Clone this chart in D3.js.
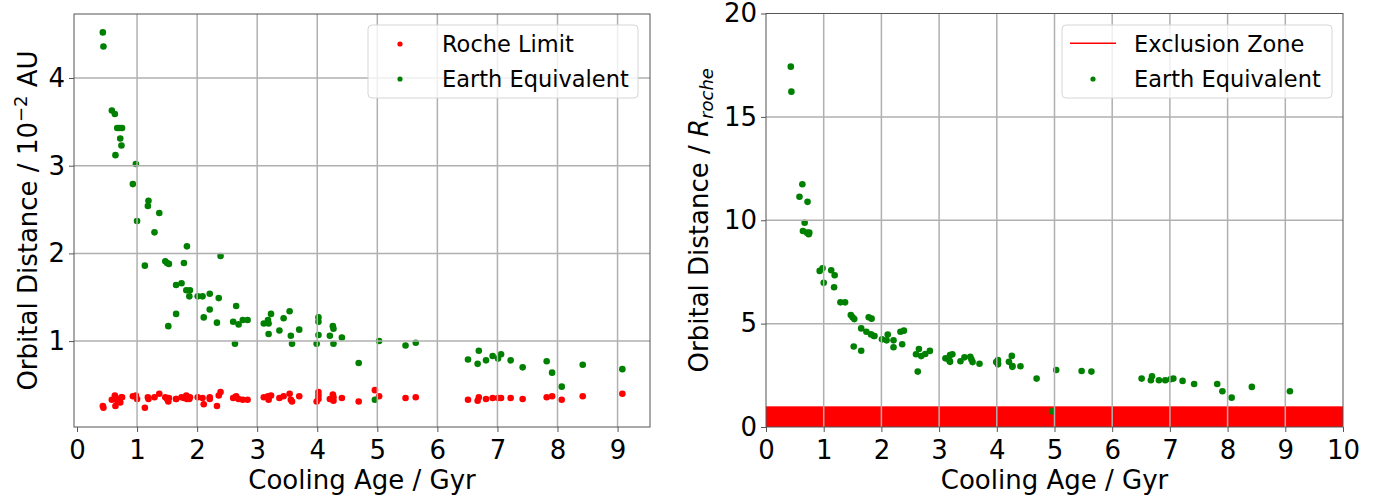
<!DOCTYPE html>
<html>
<head>
<meta charset="utf-8">
<script src="https://cdn.jsdelivr.net/npm/d3@7"></script>
<style>
  body { margin: 0; background: #fff; }
  svg { font-family: "DejaVu Sans", sans-serif; }
</style>
</head>
<body>
<svg id="chart" width="1377" height="497"></svg>
<script>
// cooling ages (Gyr), shared by both panels
const ages = [0.43, 0.44, 0.58, 0.63, 0.64, 0.67, 0.71, 0.72, 0.74, 0.75,
  0.93, 0.98, 1.00, 1.13, 1.18, 1.19, 1.29, 1.37, 1.47, 1.50,
  1.52, 1.53, 1.65, 1.65, 1.74, 1.78, 1.82, 1.83, 1.87, 1.88,
  2.01, 2.09, 2.11, 2.21, 2.21, 2.33, 2.36, 2.39, 2.60, 2.63,
  2.65, 2.69, 2.76, 2.84, 3.11, 3.18, 3.19, 3.19, 3.23, 3.37,
  3.44, 3.54, 3.56, 3.58, 3.70, 3.99, 4.02, 4.02, 4.02, 4.21,
  4.26, 4.27, 4.27, 4.41, 4.69, 4.96, 5.03, 5.47, 5.64, 6.51,
  6.67, 6.69, 6.81, 6.92, 7.01, 7.06, 7.22, 7.42, 7.82, 7.91,
  8.07, 8.42, 9.08];

// left panel: 10^-2 AU
const rocheLimit = [0.26, 0.24, 0.33, 0.38, 0.26, 0.32, 0.34, 0.30, 0.36, 0.36,
  0.37, 0.38, 0.34, 0.24, 0.36, 0.34, 0.36, 0.40, 0.36, 0.34,
  0.31, 0.35, 0.34, 0.34, 0.36, 0.35, 0.38, 0.34, 0.34, 0.36,
  0.36, 0.35, 0.28, 0.36, 0.34, 0.26, 0.38, 0.42, 0.35, 0.36,
  0.37, 0.34, 0.33, 0.33, 0.36, 0.37, 0.33, 0.35, 0.38, 0.35,
  0.37, 0.40, 0.33, 0.31, 0.37, 0.31, 0.42, 0.38, 0.34, 0.34,
  0.39, 0.36, 0.32, 0.35, 0.31, 0.44, 0.37, 0.35, 0.36, 0.33,
  0.32, 0.36, 0.34, 0.35, 0.35, 0.35, 0.35, 0.34, 0.36, 0.37,
  0.33, 0.37, 0.40];

const earthEquivalent = [4.52, 4.36, 3.63, 3.59, 3.12, 3.43, 3.43, 3.31, 3.23, 3.43,
  2.79, 3.02, 2.37, 1.86, 2.54, 2.60, 2.24, 2.46, 1.91, 1.89,
  1.17, 1.88, 1.64, 1.31, 1.66, 1.89, 1.58, 2.08, 1.51, 1.58,
  1.51, 1.51, 1.27, 1.54, 1.36, 1.21, 1.49, 1.97, 1.22, 0.97,
  1.40, 1.19, 1.24, 1.24, 1.20, 1.24, 1.20, 1.08, 1.31, 1.12,
  1.26, 1.34, 1.06, 0.97, 1.13, 0.97, 1.27, 1.22, 1.07, 1.06,
  1.17, 1.14, 0.97, 1.04, 0.75, 0.33, 1.00, 0.95, 0.98, 0.79,
  0.74, 0.89, 0.78, 0.83, 0.80, 0.85, 0.78, 0.70, 0.77, 0.64,
  0.48, 0.73, 0.68];

// right panel: in units of R_roche
const earthOverRoche = [17.43, 16.22, 11.14, 11.74, 9.48, 9.88, 9.40, 10.89, 9.32, 9.40,
  7.55, 7.68, 6.98, 7.58, 6.76, 7.34, 6.03, 6.03, 5.42, 5.31,
  3.89, 5.22, 4.77, 3.69, 4.61, 5.31, 4.48, 5.24, 4.40, 4.40,
  4.24, 4.19, 4.47, 4.19, 3.86, 4.61, 4.00, 4.66, 3.52, 2.68,
  3.77, 3.43, 3.53, 3.68, 3.32, 3.21, 3.48, 3.15, 3.52, 3.18,
  3.37, 3.40, 3.27, 3.14, 3.06, 3.14, 3.03, 3.24, 3.08, 3.15,
  3.44, 2.91, 2.95, 2.94, 2.34, 0.76, 2.76, 2.71, 2.68, 2.34,
  2.26, 2.45, 2.26, 2.26, 2.31, 2.34, 2.23, 2.08, 2.08, 1.73,
  1.42, 1.94, 1.73];

const exclusionZone = { x0: 0, x1: 10, y0: 0, y1: 1 };

const leftXTicks = [0, 1, 2, 3, 4, 5, 6, 7, 8, 9];
const leftYTicks = [1, 2, 3, 4];
const rightXTicks = [0, 1, 2, 3, 4, 5, 6, 7, 8, 9, 10];
const rightYTicks = [0, 5, 10, 15, 20];

const svg = d3.select("#chart");
const gridColor = "#b0b0b0";
const spineColor = "#555";

// Panel geometry
const left = { x0: 74, x1: 650, y0: 14, y1: 427 };
const right = { x0: 766, x1: 1343, y0: 13.5, y1: 427 };

const xL = d3.scaleLinear().domain([-0.05, 9.54]).range([left.x0, left.x1]);
const yL = d3.scaleLinear().domain([0.02, 4.73]).range([left.y1, left.y0]);
const xR = d3.scaleLinear().domain([0, 10]).range([right.x0, right.x1]);
const yR = d3.scaleLinear().domain([0, 20]).range([right.y1, right.y0]);

function drawAxes(g, box, x, y, xTicks, yTicks) {
    // ticks + labels
    const ax = g.append("g")
        .attr("transform", `translate(0,${box.y1})`)
        .call(d3.axisBottom(x).tickValues(xTicks).tickSize(5).tickPadding(4).tickFormat(d3.format("d")));
    const ay = g.append("g")
        .attr("transform", `translate(${box.x0},0)`)
        .call(d3.axisLeft(y).tickValues(yTicks).tickSize(5).tickPadding(4).tickFormat(d3.format("d")));
    [ax, ay].forEach(a => {
        a.select(".domain").remove();
        a.selectAll("line").attr("stroke", spineColor).attr("stroke-width", 1);
        a.selectAll("text").attr("font-family", "DejaVu Sans").attr("font-size", 26).attr("fill", "#000");
    });
    ax.selectAll("text").attr("dy", "0.88em");
}

function drawGrid(g, box, x, y, xTicks, yTicks) {
    const grid = g.append("g");
    grid.selectAll(".vx").data(xTicks).enter().append("line")
        .attr("x1", d => x(d)).attr("x2", d => x(d))
        .attr("y1", box.y0).attr("y2", box.y1)
        .attr("stroke", gridColor).attr("stroke-width", 1.5);
    grid.selectAll(".hy").data(yTicks).enter().append("line")
        .attr("x1", box.x0).attr("x2", box.x1)
        .attr("y1", d => y(d)).attr("y2", d => y(d))
        .attr("stroke", gridColor).attr("stroke-width", 1.5);
}

function drawFrame(g, box) {
    g.append("rect")
        .attr("x", box.x0).attr("y", box.y0)
        .attr("width", box.x1 - box.x0).attr("height", box.y1 - box.y0)
        .attr("fill", "none").attr("stroke", spineColor).attr("stroke-width", 1);
}

function legendBox(g, x, y, w, h) {
    g.append("rect")
        .attr("x", x).attr("y", y).attr("width", w).attr("height", h)
        .attr("rx", 4)
        .attr("fill", "rgba(255,255,255,0.8)")
        .attr("stroke", "#d6d6d6").attr("stroke-width", 1);
}

const points = ages.map((a, i) => ({ age: a, roche: rocheLimit[i], earth: earthEquivalent[i], ratio: earthOverRoche[i] }));

// ---------- Left panel ----------
const gL = svg.append("g");
svg.append("clipPath").attr("id", "clipL").append("rect")
    .attr("x", left.x0).attr("y", left.y0).attr("width", left.x1 - left.x0).attr("height", left.y1 - left.y0);

const dotsL = gL.append("g").attr("clip-path", "url(#clipL)");
dotsL.selectAll(".roche").data(points).enter().append("circle")
    .attr("cx", d => xL(d.age)).attr("cy", d => yL(d.roche)).attr("r", 3.3)
    .attr("fill", "#ff0000");
dotsL.selectAll(".earth").data(points).enter().append("circle")
    .attr("cx", d => xL(d.age)).attr("cy", d => yL(d.earth)).attr("r", 3.3)
    .attr("fill", "#008000");

drawGrid(gL, left, xL, yL, leftXTicks.filter(t => t > 0), leftYTicks);
drawFrame(gL, left);
drawAxes(gL, left, xL, yL, leftXTicks, leftYTicks);

// legend (left)
const legL = gL.append("g");
legendBox(legL, 368, 25, 270, 73);
legL.append("circle").attr("cx", 400).attr("cy", 44).attr("r", 2.6).attr("fill", "#ff0000");
legL.append("circle").attr("cx", 400).attr("cy", 79).attr("r", 2.6).attr("fill", "#008000");
legL.append("text").attr("x", 442).attr("y", 52).attr("font-size", 22.5).text("Roche Limit");
legL.append("text").attr("x", 442).attr("y", 87).attr("font-size", 22.5).text("Earth Equivalent");

// axis labels (left)
gL.append("text")
    .attr("x", (left.x0 + left.x1) / 2).attr("y", 489)
    .attr("text-anchor", "middle").attr("font-size", 26)
    .text("Cooling Age / Gyr");
const ylabL = gL.append("text")
    .attr("transform", `translate(37,${(left.y0 + left.y1) / 2}) rotate(-90)`)
    .attr("text-anchor", "middle").attr("font-size", 26);
ylabL.append("tspan").text("Orbital Distance / 10");
ylabL.append("tspan").attr("font-size", 18).attr("dy", -10).text("\u22122");
ylabL.append("tspan").attr("dy", 10).text(" AU");

// ---------- Right panel ----------
const gR = svg.append("g");
svg.append("clipPath").attr("id", "clipR").append("rect")
    .attr("x", right.x0).attr("y", right.y0).attr("width", right.x1 - right.x0).attr("height", right.y1 - right.y0);

const dotsR = gR.append("g").attr("clip-path", "url(#clipR)");
dotsR.append("rect")
    .attr("x", xR(exclusionZone.x0)).attr("y", yR(exclusionZone.y1))
    .attr("width", xR(exclusionZone.x1) - xR(exclusionZone.x0))
    .attr("height", yR(exclusionZone.y0) - yR(exclusionZone.y1))
    .attr("fill", "#ff0000");
dotsR.selectAll(".ratio").data(points).enter().append("circle")
    .attr("cx", d => xR(d.age)).attr("cy", d => yR(d.ratio)).attr("r", 3.3)
    .attr("fill", "#008000");

drawGrid(gR, right, xR, yR, rightXTicks.filter(t => t > 0 && t < 10), rightYTicks.filter(t => t > 0 && t < 20));
drawFrame(gR, right);
drawAxes(gR, right, xR, yR, rightXTicks, rightYTicks);

// legend (right)
const legR = gR.append("g");
legendBox(legR, 1062, 25, 270, 73);
legR.append("rect").attr("x", 1070).attr("y", 42.5).attr("width", 46).attr("height", 1.5)
    .style("fill", "#ff0000");
legR.append("circle").attr("cx", 1093).attr("cy", 79).attr("r", 2.6).attr("fill", "#008000");
legR.append("text").attr("x", 1134).attr("y", 52).attr("font-size", 22.5).text("Exclusion Zone");
legR.append("text").attr("x", 1134).attr("y", 87).attr("font-size", 22.5).text("Earth Equivalent");

// axis labels (right)
gR.append("text")
    .attr("x", (right.x0 + right.x1) / 2).attr("y", 489)
    .attr("text-anchor", "middle").attr("font-size", 26)
    .text("Cooling Age / Gyr");
const ylabR = gR.append("text")
    .attr("transform", `translate(708,${(right.y0 + right.y1) / 2}) rotate(-90)`)
    .attr("text-anchor", "middle").attr("font-size", 26);
ylabR.append("tspan").text("Orbital Distance / ");
ylabR.append("tspan").attr("font-style", "italic").text("R");
ylabR.append("tspan").attr("font-style", "italic").attr("font-size", 18).attr("dy", 5).text("roche");
</script>
</body>
</html>
